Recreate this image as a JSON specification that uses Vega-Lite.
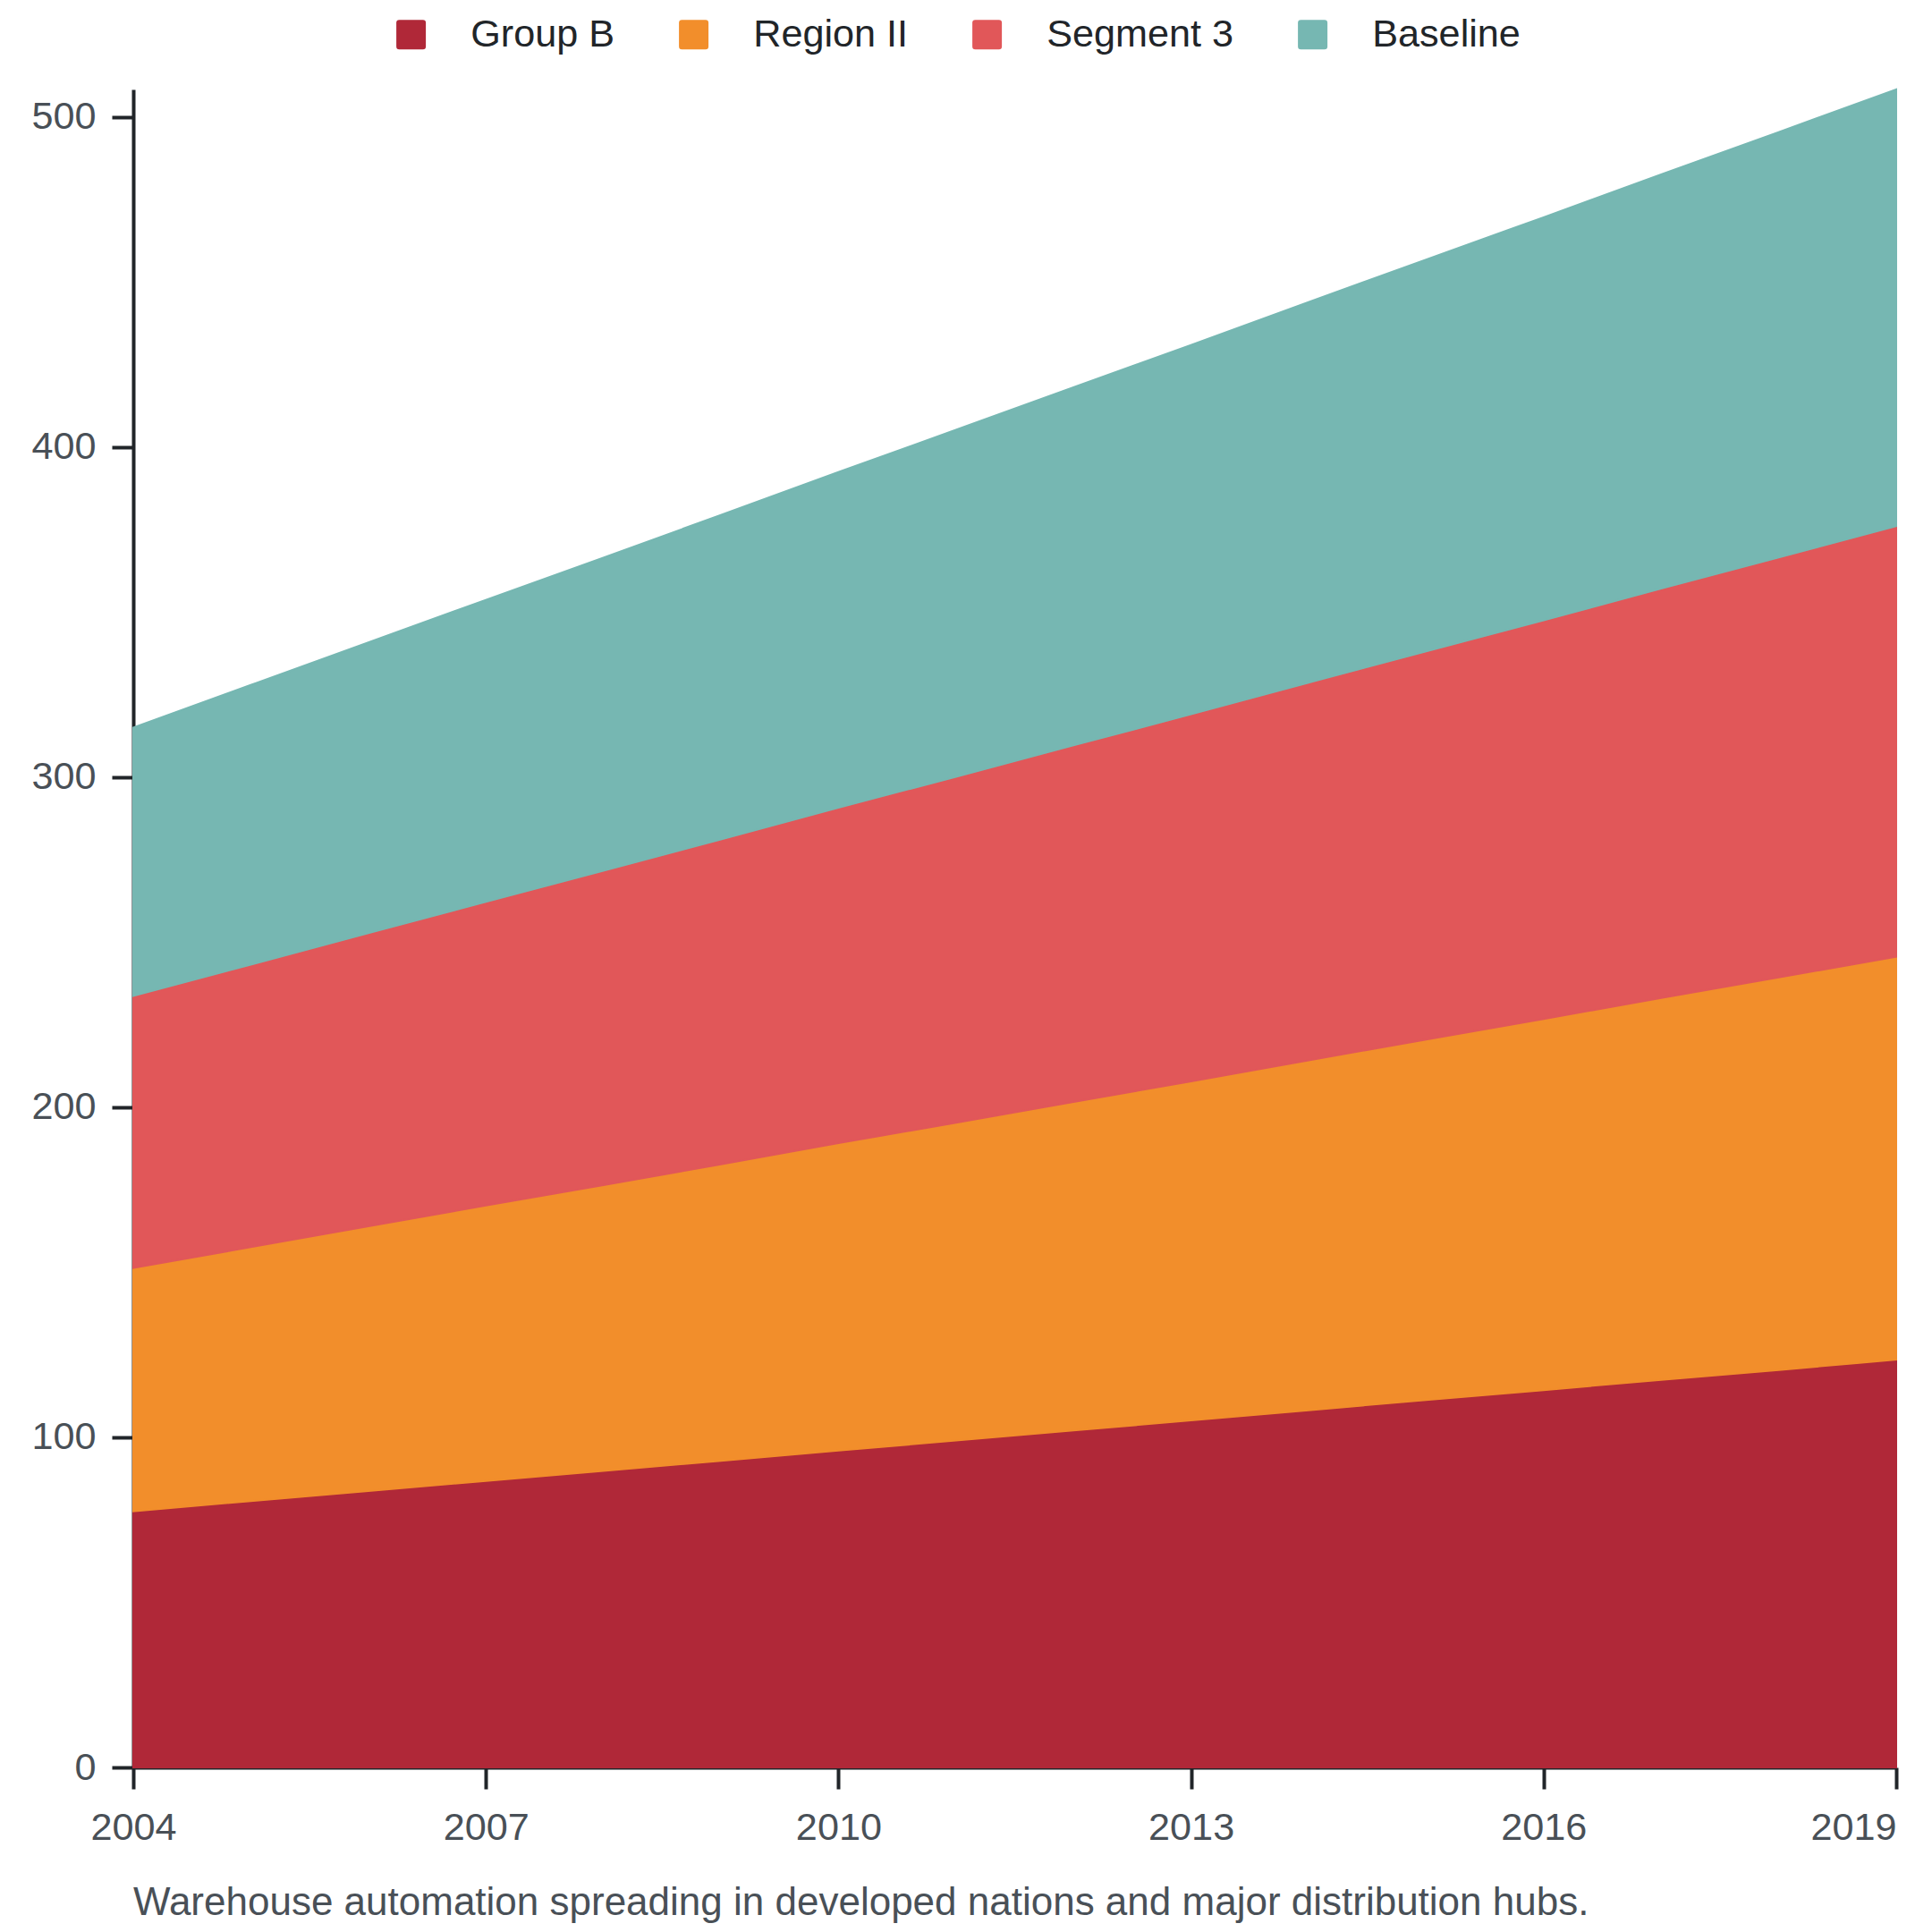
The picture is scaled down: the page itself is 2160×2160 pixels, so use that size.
{
  "$schema": "https://vega.github.io/schema/vega-lite/v6.json",
  "width": 1971,
  "height": 1876,
  "autosize": "none",
  "padding": {"left": 149, "top": 100, "right": 40, "bottom": 184},
  "background": "white",
  "title": {
    "text": "Warehouse automation spreading in developed nations and major distribution hubs.",
    "orient": "bottom",
    "anchor": "start",
    "frame": "group",
    "offset": 42,
    "fontSize": 44,
    "fontWeight": "normal",
    "color": "#495057"
  },
  "data": {
    "values": [
      {"year": 2004, "series": "Group B", "value": 77.6},
      {"year": 2005, "series": "Group B", "value": 80.7},
      {"year": 2006, "series": "Group B", "value": 83.7},
      {"year": 2007, "series": "Group B", "value": 86.8},
      {"year": 2008, "series": "Group B", "value": 89.8},
      {"year": 2009, "series": "Group B", "value": 92.9},
      {"year": 2010, "series": "Group B", "value": 96.0},
      {"year": 2011, "series": "Group B", "value": 99.0},
      {"year": 2012, "series": "Group B", "value": 102.1},
      {"year": 2013, "series": "Group B", "value": 105.1},
      {"year": 2014, "series": "Group B", "value": 108.2},
      {"year": 2015, "series": "Group B", "value": 111.3},
      {"year": 2016, "series": "Group B", "value": 114.3},
      {"year": 2017, "series": "Group B", "value": 117.4},
      {"year": 2018, "series": "Group B", "value": 120.4},
      {"year": 2019, "series": "Group B", "value": 123.5},
      {"year": 2004, "series": "Region II", "value": 73.7},
      {"year": 2005, "series": "Region II", "value": 76.9},
      {"year": 2006, "series": "Region II", "value": 80.2},
      {"year": 2007, "series": "Region II", "value": 83.4},
      {"year": 2008, "series": "Region II", "value": 86.6},
      {"year": 2009, "series": "Region II", "value": 89.8},
      {"year": 2010, "series": "Region II", "value": 93.1},
      {"year": 2011, "series": "Region II", "value": 96.3},
      {"year": 2012, "series": "Region II", "value": 99.5},
      {"year": 2013, "series": "Region II", "value": 102.7},
      {"year": 2014, "series": "Region II", "value": 106.0},
      {"year": 2015, "series": "Region II", "value": 109.2},
      {"year": 2016, "series": "Region II", "value": 112.4},
      {"year": 2017, "series": "Region II", "value": 115.7},
      {"year": 2018, "series": "Region II", "value": 118.9},
      {"year": 2019, "series": "Region II", "value": 122.1},
      {"year": 2004, "series": "Segment 3", "value": 82.4},
      {"year": 2005, "series": "Segment 3", "value": 85.6},
      {"year": 2006, "series": "Segment 3", "value": 88.8},
      {"year": 2007, "series": "Segment 3", "value": 92.0},
      {"year": 2008, "series": "Segment 3", "value": 95.2},
      {"year": 2009, "series": "Segment 3", "value": 98.4},
      {"year": 2010, "series": "Segment 3", "value": 101.6},
      {"year": 2011, "series": "Segment 3", "value": 104.8},
      {"year": 2012, "series": "Segment 3", "value": 108.0},
      {"year": 2013, "series": "Segment 3", "value": 111.2},
      {"year": 2014, "series": "Segment 3", "value": 114.4},
      {"year": 2015, "series": "Segment 3", "value": 117.6},
      {"year": 2016, "series": "Segment 3", "value": 120.8},
      {"year": 2017, "series": "Segment 3", "value": 124.0},
      {"year": 2018, "series": "Segment 3", "value": 127.2},
      {"year": 2019, "series": "Segment 3", "value": 130.4},
      {"year": 2004, "series": "Baseline", "value": 81.3},
      {"year": 2005, "series": "Baseline", "value": 84.7},
      {"year": 2006, "series": "Baseline", "value": 88.1},
      {"year": 2007, "series": "Baseline", "value": 91.5},
      {"year": 2008, "series": "Baseline", "value": 94.9},
      {"year": 2009, "series": "Baseline", "value": 98.3},
      {"year": 2010, "series": "Baseline", "value": 101.7},
      {"year": 2011, "series": "Baseline", "value": 105.1},
      {"year": 2012, "series": "Baseline", "value": 108.5},
      {"year": 2013, "series": "Baseline", "value": 111.9},
      {"year": 2014, "series": "Baseline", "value": 115.3},
      {"year": 2015, "series": "Baseline", "value": 118.7},
      {"year": 2016, "series": "Baseline", "value": 122.1},
      {"year": 2017, "series": "Baseline", "value": 125.5},
      {"year": 2018, "series": "Baseline", "value": 128.9},
      {"year": 2019, "series": "Baseline", "value": 132.3}
    ]
  },
  "transform": [
    {"calculate": "indexof(['Group B', 'Region II', 'Segment 3', 'Baseline'], datum.series)", "as": "layer"}
  ],
  "mark": {"type": "area", "strokeWidth": 2, "opacity": 1},
  "encoding": {
    "x": {
      "field": "year",
      "type": "quantitative",
      "scale": {"domain": [2004, 2019], "nice": false, "zero": false},
      "axis": {
        "title": null,
        "values": [2004, 2007, 2010, 2013, 2016, 2019],
        "format": "d",
        "labelAlign": {"condition": {"test": "datum.value === 2019", "value": "right"}, "value": "center"},
        "labelPadding": 22,
        "grid": false
      }
    },
    "y": {
      "field": "value",
      "type": "quantitative",
      "aggregate": "sum",
      "stack": "zero",
      "scale": {"domain": [0, 508.3], "nice": false},
      "axis": {
        "title": null,
        "values": [0, 100, 200, 300, 400, 500],
        "labelPadding": 18,
        "grid": false
      }
    },
    "order": {"field": "layer", "type": "quantitative", "sort": "ascending"},
    "color": {
      "field": "series",
      "type": "nominal",
      "sort": ["Group B", "Region II", "Segment 3", "Baseline"],
      "scale": {
        "domain": ["Group B", "Region II", "Segment 3", "Baseline"],
        "range": ["#b02838", "#f28e2b", "#e15759", "#76b7b2"]
      },
      "legend": {
        "title": null,
        "orient": "none",
        "direction": "horizontal",
        "legendX": 289,
        "legendY": -83,
        "padding": 0,
        "symbolType": "M -0.8,-1 H 0.8 Q 1,-1 1,-0.8 V 0.8 Q 1,1 0.8,1 H -0.8 Q -1,1 -1,0.8 V -0.8 Q -1,-1 -0.8,-1 Z",
        "symbolSize": 1089,
        "symbolStrokeWidth": 0,
        "labelOffset": 45,
        "columnPadding": 66,
        "labelFontSize": 43.2,
        "labelColor": "#212529",
        "labelLimit": 500
      }
    },
    "stroke": {
      "field": "series",
      "type": "nominal",
      "sort": ["Group B", "Region II", "Segment 3", "Baseline"],
      "scale": {
        "domain": ["Group B", "Region II", "Segment 3", "Baseline"],
        "range": ["#b02838", "#f28e2b", "#e15759", "#76b7b2"]
      },
      "legend": null
    }
  },
  "config": {
    "font": "Liberation Sans",
    "view": {"stroke": null},
    "axis": {
      "zindex": 1,
      "domainColor": "#212529",
      "domainWidth": 4,
      "tickColor": "#212529",
      "tickWidth": 4,
      "tickSize": 24,
      "labelFontSize": 43.2,
      "labelColor": "#495057"
    }
  }
}
